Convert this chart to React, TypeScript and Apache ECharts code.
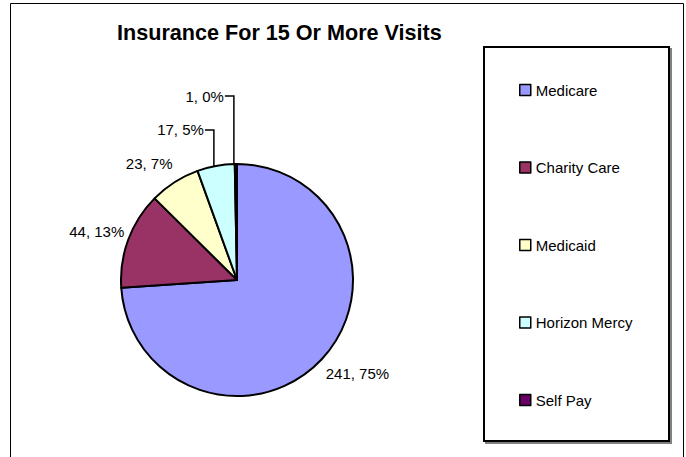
import React, { useEffect, useRef } from "react";
import * as echarts from "echarts";

const categories = ["Medicare", "Charity Care", "Medicaid", "Horizon Mercy", "Self Pay"];
const values = [241, 44, 23, 17, 1];
const percentLabels = ["75%", "13%", "7%", "5%", "0%"];
const colors = ["#9999FF", "#993366", "#FFFFCC", "#CCFFFF", "#660066"];
const titleText = "Insurance For 15 Or More Visits";

// label placement relative to each slice's outer mid point
const labelPlacement = [
  { dx: 4, dy: 14, align: "left", leader: false },
  { dx: -4, dy: -8, align: "right", leader: false },
  { dx: -2, dy: -19, align: "right", leader: false },
  { dx: -12, dy: -36, align: "right", leader: true },
  { dx: -12, dy: -68, align: "right", leader: true },
];

const FONT = "'Liberation Sans', Arial, sans-serif";

export default function App() {
  const ref = useRef<HTMLDivElement>(null);
  useEffect(() => {
    if (!ref.current) return;
    const chart = echarts.init(ref.current, null, { renderer: "svg" });
    const data = categories.map((name, i) => ({
      name,
      value: values[i],
      itemStyle: { color: colors[i] },
    }));
    chart.setOption({
      animation: false,
      backgroundColor: "#ffffff",
      title: {
        text: titleText,
        left: 117,
        top: 21,
        padding: 0,
        textStyle: { fontFamily: FONT, fontSize: 21.6, fontWeight: "bold", color: "#000" },
      },
      legend: {
        orient: "vertical",
        left: 519,
        top: 82,
        padding: 0,
        itemWidth: 11,
        itemHeight: 11,
        itemGap: 61.5,
        icon: "rect",
        itemStyle: { borderColor: "#000", borderWidth: 1.5 },
        textStyle: { fontFamily: FONT, fontSize: 15, color: "#000", lineHeight: 16 },
        data: categories,
        selectedMode: false,
      },
      graphic: [
        {
          type: "rect",
          z: 0,
          silent: true,
          shape: { x: 10.5, y: 3.5, width: 673, height: 480 },
          style: { fill: "none", stroke: "#000", lineWidth: 1 },
        },
        {
          type: "rect",
          z: 0,
          silent: true,
          shape: { x: 486, y: 49, width: 185, height: 394 },
          style: { fill: "#808080", stroke: "#808080", lineWidth: 2 },
        },
        {
          type: "rect",
          z: 1,
          silent: true,
          shape: { x: 484, y: 47, width: 185, height: 394 },
          style: { fill: "#ffffff", stroke: "#000", lineWidth: 2 },
        },
      ],
      series: [
        {
          type: "pie",
          center: [237, 280],
          radius: 116,
          startAngle: 90,
          clockwise: true,
          avoidLabelOverlap: false,
          data,
          itemStyle: { borderColor: "#000", borderWidth: 2 },
          emphasis: { disabled: true },
          label: {
            show: true,
            position: "outside",
            fontFamily: FONT,
            fontSize: 15,
            color: "#000",
            formatter: (p: any) => `${p.value}, ${percentLabels[p.dataIndex]}`,
          },
          labelLine: {
            show: true,
            length: 10,
            length2: 10,
            lineStyle: { color: "#000", width: 1.5 },
          },
          labelLayout: (params: any) => {
            const pl = labelPlacement[params.dataIndex];
            const pts = params.labelLinePoints;
            if (!pts) return {};
            const p0 = pts[0];
            const lx = p0[0] + pl.dx;
            const ly = p0[1] + pl.dy;
            const res: any = { x: lx, y: ly, align: pl.align, verticalAlign: "middle" };
            if (pl.leader) {
              const vx = p0[0] - 2;
              res.labelLinePoints = [
                [vx, p0[1]],
                [vx, ly],
                [lx + 1, ly],
              ];
            } else {
              res.labelLinePoints = [p0, p0, p0];
            }
            return res;
          },
        },
      ],
    });
    return () => chart.dispose();
  }, []);
  return (
    <div
      ref={ref}
      style={{ position: "absolute", left: 0, top: 0, width: 686, height: 457 }}
    />
  );
}
